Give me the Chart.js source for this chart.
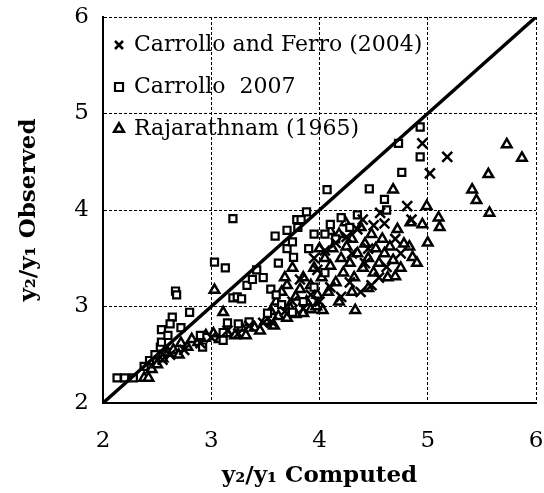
<!doctype html>
<html>
<head>
    <title>Observed vs computed</title>
    <script src="https://cdn.jsdelivr.net/npm/chart.js@4/dist/chart.umd.min.js"></script>
    <style>
        html, body { margin: 0; padding: 0; background: #fff; }
        #wrap { width: 544px; height: 493px; }
    </style>
</head>
<body>
    <div id="wrap"><canvas id="canvas" width="544" height="493"></canvas></div>
    <script>
        // [computed, observed] pairs
        var ferro2004 = [
            [4.95,4.69],[5.18,4.55],[5.02,4.38],[4.81,4.04],[4.56,3.97],[4.60,3.86],[4.50,3.84],
            [4.40,3.90],[4.35,3.80],[4.25,3.72],[4.15,3.66],[4.05,3.58],[3.95,3.50],[4.30,3.55],
            [4.45,3.60],[4.62,3.41],[4.55,3.30],[4.48,3.22],[4.38,3.15],[4.28,3.25],[4.20,3.10],
            [4.10,3.20],[4.00,3.05],[3.92,3.12],[3.85,2.98],[3.75,3.05],[3.68,2.95],[3.56,2.84],
            [3.48,2.83],[3.35,2.80],[3.25,2.72],[3.15,2.75],[3.00,2.68],[2.90,2.62],[2.75,2.55],
            [2.62,2.50],[2.55,2.45],[4.70,3.70],[4.75,3.55],[4.85,3.90],[4.42,3.45],[3.82,3.28],
            [3.98,3.38]
        ];
        var carrollo2007 = [
            [2.13,2.26],[2.20,2.26],[2.28,2.26],[2.38,2.38],[2.43,2.44],[2.48,2.50],[2.53,2.58],
            [2.54,2.76],[2.54,2.63],[2.60,2.70],[2.64,2.89],[2.67,3.16],[2.68,3.12],[2.62,2.82],
            [2.72,2.78],[2.80,2.94],[2.90,2.70],[2.92,2.58],[2.96,2.68],[3.03,3.46],[3.11,2.65],
            [3.11,2.73],[3.13,3.40],[3.15,2.83],[3.20,3.09],[3.20,3.91],[3.24,3.10],[3.28,3.08],
            [3.25,2.82],[3.35,2.84],[3.33,3.22],[3.38,3.28],[3.42,3.38],[3.48,3.30],[3.52,2.93],
            [3.55,3.18],[3.59,3.73],[3.60,3.12],[3.62,3.45],[3.70,3.60],[3.70,3.79],[3.75,2.94],
            [3.75,3.67],[3.76,3.51],[3.79,3.90],[3.80,3.82],[3.83,3.90],[3.88,3.98],[3.90,3.60],
            [3.95,3.75],[4.07,4.21],[4.05,3.75],[4.10,3.85],[4.15,3.70],[4.20,3.92],[4.28,3.82],
            [4.35,3.95],[4.46,4.22],[4.60,4.11],[4.62,4.00],[4.76,4.39],[4.73,4.69],[4.93,4.86],
            [4.93,4.55],[3.65,3.02],[3.85,3.05],[3.95,3.20],[4.05,3.35]
        ];
        var rajarathnam1965 = [
            [5.73,4.68],[5.87,4.54],[5.56,4.37],[5.41,4.21],[5.45,4.10],[5.57,3.97],[4.68,4.21],
            [4.99,4.04],[5.10,3.92],[5.11,3.82],[4.95,3.85],[4.84,3.87],[5.00,3.66],[4.86,3.51],
            [4.83,3.62],[4.90,3.45],[4.70,3.31],[4.45,3.19],[4.30,3.15],[4.33,2.96],[4.18,3.05],
            [4.03,2.96],
            [2.38,2.26],[2.42,2.26],[2.45,2.35],[2.50,2.40],[2.55,2.46],[2.60,2.52],[2.65,2.55],
            [2.70,2.50],[2.72,2.62],[2.78,2.58],[2.82,2.66],[2.88,2.63],[2.95,2.70],[3.02,2.72],
            [3.08,2.66],[3.15,2.72],[3.22,2.70],[3.28,2.78],[3.32,2.70],[3.40,2.78],[3.45,2.75],
            [3.50,2.85],[3.58,2.80],[3.62,2.90],[3.70,2.88],[3.78,2.92],[3.85,2.93],[3.92,2.97],
            [3.97,3.00],[3.11,2.94],[3.03,3.17],
            [3.60,3.05],[3.65,3.15],[3.70,3.22],[3.72,3.00],[3.78,3.10],[3.82,3.18],[3.85,3.30],
            [3.88,3.05],[3.92,3.22],[3.95,3.40],[3.98,3.12],[4.02,3.30],[4.05,3.50],[4.08,3.15],
            [4.10,3.42],[4.12,3.60],[4.15,3.25],[4.18,3.75],[4.20,3.50],[4.22,3.35],[4.24,3.87],
            [4.25,3.62],[4.28,3.45],[4.30,3.70],[4.32,3.30],[4.35,3.55],[4.38,3.82],[4.40,3.40],
            [4.42,3.65],[4.45,3.50],[4.48,3.75],[4.50,3.35],[4.52,3.60],[4.55,3.45],[4.58,3.70],
            [4.60,3.55],[4.63,3.30],[4.65,3.62],[4.68,3.48],[4.72,3.80],[4.75,3.40],[4.78,3.65],
            [3.75,3.40],[3.68,3.30],[3.55,2.95],[4.00,3.60],[4.10,3.78]
        ];
        var equalityLine = [[2,2],[6,6]];
        var axisTicks = [2, 3, 4, 5, 6];

        function pts(arr) {
            return arr.map(function (p) { return {x: p[0], y: p[1]}; });
        }

        var serif = "'DejaVu Serif', 'Liberation Serif', serif";

        var config = {
            type: 'scatter',
            data: {
                datasets: [{
                    label: 'Carrollo and Ferro (2004)',
                    data: pts(ferro2004),
                    pointStyle: 'crossRot', pointRadius: 7, borderWidth: 2.5,
                    borderColor: '#000', backgroundColor: '#000', order: 1
                }, {
                    label: 'Carrollo  2007',
                    data: pts(carrollo2007),
                    pointStyle: 'rect', pointRadius: 5, borderWidth: 2.2,
                    borderColor: '#000', backgroundColor: '#fff', order: 1
                }, {
                    label: 'Rajarathnam (1965)',
                    data: pts(rajarathnam1965),
                    pointStyle: 'triangle', pointRadius: 5.5, borderWidth: 2.5,
                    borderColor: '#000', backgroundColor: '#fff', order: 1
                }, {
                    type: 'line',
                    label: 'line',
                    data: pts(equalityLine),
                    borderColor: '#000', borderWidth: 3.5, pointRadius: 0,
                    fill: false, order: 0
                }]
            },
            options: {
                responsive: false,
                animation: false,
                layout: {autoPadding: false, padding: {left: 0, right: 8, top: 17, bottom: 0}},
                plugins: {
                    tooltip: {enabled: false},
                    legend: {
                        position: 'chartArea',
                        fullSize: false,
                        align: 'start',
                        labels: {
                            usePointStyle: true,
                            boxWidth: 8, boxHeight: 8,
                            padding: 20,
                            color: '#000',
                            font: {family: serif, size: 22},
                            filter: function (item) { return item.text !== 'line'; }
                        }
                    }
                },
                scales: {
                    x: {
                        type: 'linear', min: 2, max: 6,
                        afterBuildTicks: function (s) { s.ticks = axisTicks.map(function (v) { return {value: v}; }); },
                        afterFit: function (s) { s.height = 90; s.paddingLeft = 0; s.paddingRight = 0; },
                        grid: {color: '#000', lineWidth: 1, drawTicks: false},
                        border: {color: '#000', width: 2, dash: [3, 2]},
                        ticks: {color: '#000', padding: 24, font: {family: serif, size: 23}},
                        title: {display: true, text: 'y₂/y₁ Computed', color: '#000',
                                padding: {top: 0, bottom: 3}, font: {family: serif, size: 23, weight: 'bold'}}
                    },
                    y: {
                        type: 'linear', min: 2, max: 6,
                        afterBuildTicks: function (s) { s.ticks = axisTicks.map(function (v) { return {value: v}; }); },
                        afterFit: function (s) { s.width = 103; s.paddingTop = 0; s.paddingBottom = 0; },
                        grid: {color: '#000', lineWidth: 1, drawTicks: false},
                        border: {color: '#000', width: 2, dash: [3, 2]},
                        ticks: {color: '#000', padding: 14, font: {family: serif, size: 23}},
                        title: {display: true, text: 'y₂/y₁ Observed', color: '#000',
                                padding: {top: 15, bottom: 0}, font: {family: serif, size: 23, weight: 'bold'}}
                    }
                }
            },
            plugins: [{
                id: 'paperBg',
                beforeDraw: function (chart) {
                    chart.ctx.save();
                    chart.ctx.fillStyle = '#fff';
                    chart.ctx.fillRect(0, 0, chart.width, chart.height);
                    chart.ctx.restore();
                }
            }, {
                id: 'legendSpot',
                afterLayout: function (chart) {
                    // legend sits inside the plot, near its top-left corner
                    chart.legend.left = chart.chartArea.left - 8;
                    chart.legend.top = chart.chartArea.top - 3;
                }
            }]
        };

        window.onload = function () {
            var ctx = document.getElementById('canvas').getContext('2d');
            window.myChart = new Chart(ctx, config);
        };
    </script>
</body>
</html>
